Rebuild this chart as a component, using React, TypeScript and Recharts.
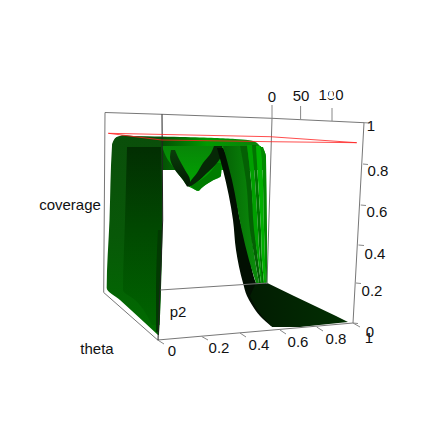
import React from "react";
import { ComposedChart, XAxis, YAxis, Area, Line } from "recharts";

// The plot is an rgl 3D view, so everything is read in projected view units:
// one slice = [view height, left edge, right edge]
type Slice = [number, number, number];

const topSheet: Slice[] = [[136, 122, 125], [137, 118, 180], [139, 115, 235], [141, 114, 253], [146, 112, 260], [157, 112, 266], [170, 112, 266]];
const valleySheet: Slice[] = [[146, 162, 228], [160, 168, 226], [168, 174, 222], [175, 179, 221], [180, 183, 213], [186, 188, 204], [190.7, 197, 199]];
const valleyLobe: Slice[] = [[163, 217, 222], [170, 212, 221], [176, 206, 221], [181, 199, 212], [186, 191, 204], [190.7, 197, 199]];
const ridgeLeft: Slice[] = [[150, 171, 175], [157, 170, 178], [170, 175, 185], [180, 183, 190], [186.5, 187, 190]];
const ridgeRight: Slice[] = [[146, 214, 222], [153, 211, 222], [163, 203, 217], [173, 197, 207], [182, 190, 197], [186, 188, 191]];
const wallBase: Slice[] = [[135.2, 122, 126], [136.5, 118, 140], [139, 114.5, 162], [146, 112, 162], [220, 109.5, 162.5], [288, 106.7, 161], [300, 120, 160.5], [335, 158, 159]];
const wallPanel: Slice[] = [[147, 127, 161], [220, 125, 162], [290, 123, 160.5], [300, 135, 160.5], [325, 152, 159.5]];
const wallRim: Slice[] = [[230, 158, 162], [290, 156, 160.5], [332, 156, 159]];
const stripeBlack: Slice[] = [[148, 217, 223], [170, 223, 232], [220, 233, 240], [250, 236, 248], [283, 243, 256], [296, 247, 262], [305, 252, 268], [316, 260, 274], [326, 271, 280]];
const stripeMid: Slice[] = [[146, 223, 240], [180, 232, 247], [230, 241.7, 251], [260, 249, 255], [283, 256, 259]];
const stripeDark: Slice[] = [[146, 240, 247], [180, 246, 251], [230, 250, 255], [260, 255, 258], [283, 259, 261]];
const stripeBright: Slice[] = [[145, 247, 252], [180, 251, 255], [230, 254, 258], [260, 258, 260], [283, 261, 263]];
const stripeDeep: Slice[] = [[145, 252, 256], [180, 255, 258], [230, 258, 261], [260, 260, 262], [283, 262, 264]];
const stripeLight: Slice[] = [[146, 256, 261], [180, 258, 263], [230, 261, 264], [260, 262, 265], [283, 264, 266]];
const stripeEdge: Slice[] = [[147, 260, 263], [158, 262, 266], [230, 264, 267], [283, 265.5, 267.3]];
const floorSheet: Slice[] = [[283, 256, 267.3], [296, 250, 294], [306, 255, 315], [316, 262, 336], [322, 268, 348], [327, 272, 300]];

const smoothBands = [topSheet, valleySheet, valleyLobe, ridgeLeft, ridgeRight, stripeBlack];
const smoothFills = ["url(#topFill)", "url(#valleyFill)", "#007c00", "url(#ridgeFill)", "#062806", "#020f02"];
const frontBands = [floorSheet, stripeMid, stripeDark, stripeBright, stripeDeep, stripeLight, stripeEdge, wallBase, wallPanel, wallRim];
const frontFills = ["url(#floorFill)", "url(#midFill)", "#046004", "#00a000", "#007400", "#00b000", "#008a00", "url(#wallFill)", "url(#panelFill)", "#023a02"];

const backTop = [[105, 112.5], [162, 114.3], [272, 118.3], [364, 122.7]];
const backLeft = [[105, 112.5], [103.7, 292.5]];
const sideBottom = [[103.7, 292.5], [157.7, 340]];
const frontBottom = [[157.7, 340], [353, 323]];
const frontRight = [[364, 122.7], [353, 323]];
const innerLeft = [[162, 114.3], [162.7, 220], [158, 340]];
const innerRight = [[272, 118.3], [267, 284]];
const innerFloor = [[160, 290], [267, 283]];
const boxEdges = [backTop, backLeft, sideBottom, frontBottom, frontRight, innerRight, innerFloor];

const redPlane = [[108.3, 133.3], [270, 136.7], [356.7, 142.7], [270, 141.7], [161.7, 140], [108.3, 133.3]];

const tickMarks = [
  [[272, 118], [272, 105]], [[300.6, 119], [300.6, 106]], [[332, 121], [332, 108]],
  [[364, 122.7], [370, 123]], [[363, 164], [368, 164.5]], [[360.7, 205], [366, 205.5]], [[358.5, 245], [364, 245.5]], [[356, 283], [361, 283.5]], [[353, 323], [358, 323.5]],
  [[157.7, 340], [164, 344]], [[201.7, 336.5], [208, 340]], [[240, 333], [246, 337]], [[280, 330], [286, 334]], [[316.7, 327], [323, 331]], [[353, 323], [360, 327]],
];

const thetaLabels = ["0", "50", "100"];
const thetaSpots = [[272, 96], [301, 95], [331, 94]];
const coverageLabels = ["1", "0.8", "0.6", "0.4", "0.2", "0"];
const coverageSpots = [[371, 125], [378, 170], [377, 211], [375, 253], [372, 290], [370, 331]];
const p2Labels = ["0", "0.2", "0.4", "0.6", "0.8", "1"];
const p2Spots = [[172, 350], [219, 347], [259, 344], [298, 341], [336, 338], [369, 337]];
const axisTitles = ["coverage", "theta", "p2"];
const titleSpots = [[70, 204], [97, 348], [178, 311]];

const toPoints = (rows: number[][]) => rows.map(([vx, vy]) => ({ vx, vy }));
const toSpan = (rows: Slice[]) => rows.map(([vy, a, b]) => ({ vy, span: [a, b] }));

const allLabels = [
  ...thetaLabels.map((text, i) => ({ text, vx: thetaSpots[i][0], vy: thetaSpots[i][1] })),
  ...coverageLabels.map((text, i) => ({ text, vx: coverageSpots[i][0], vy: coverageSpots[i][1] })),
  ...p2Labels.map((text, i) => ({ text, vx: p2Spots[i][0], vy: p2Spots[i][1] })),
  ...axisTitles.map((text, i) => ({ text, vx: titleSpots[i][0], vy: titleSpots[i][1] })),
];

const LabelDot = (props: any) => (
  <text
    key={props.index}
    x={props.cx}
    y={props.cy}
    textAnchor="middle"
    dominantBaseline="central"
    fontFamily="Liberation Sans"
    fontSize={15}
    fill="#111"
  >
    {props.payload.text}
  </text>
);

export default function App() {
  return (
    <div style={{ position: "absolute", left: 0, top: 0 }}>
      <ComposedChart layout="vertical" width={445} height={427} margin={{ top: 0, right: 0, bottom: 0, left: 0 }}>
        <defs>
          <linearGradient id="topFill" gradientUnits="userSpaceOnUse" x1="162" y1="0" x2="262" y2="0">
            <stop offset="0" stopColor="#045004" />
            <stop offset="0.45" stopColor="#009a00" />
            <stop offset="1" stopColor="#0a800a" />
          </linearGradient>
          <linearGradient id="valleyFill" gradientUnits="userSpaceOnUse" x1="0" y1="145" x2="0" y2="190">
            <stop offset="0" stopColor="#088408" />
            <stop offset="1" stopColor="#00aa00" />
          </linearGradient>
          <linearGradient id="ridgeFill" gradientUnits="userSpaceOnUse" x1="0" y1="150" x2="0" y2="186">
            <stop offset="0" stopColor="#0a3e0a" />
            <stop offset="1" stopColor="#021a02" />
          </linearGradient>
          <linearGradient id="midFill" gradientUnits="userSpaceOnUse" x1="225" y1="0" x2="255" y2="0">
            <stop offset="0" stopColor="#056405" />
            <stop offset="1" stopColor="#0a8a0a" />
          </linearGradient>
          <linearGradient id="floorFill" gradientUnits="userSpaceOnUse" x1="250" y1="0" x2="350" y2="0">
            <stop offset="0" stopColor="#021c02" />
            <stop offset="1" stopColor="#023002" />
          </linearGradient>
          <linearGradient id="wallFill" gradientUnits="userSpaceOnUse" x1="0" y1="136" x2="0" y2="335">
            <stop offset="0" stopColor="#0a4e0a" />
            <stop offset="0.5" stopColor="#085808" />
            <stop offset="1" stopColor="#006c00" />
          </linearGradient>
          <linearGradient id="panelFill" gradientUnits="userSpaceOnUse" x1="0" y1="147" x2="0" y2="325">
            <stop offset="0" stopColor="#022e02" />
            <stop offset="0.45" stopColor="#014801" />
            <stop offset="1" stopColor="#006400" />
          </linearGradient>
        </defs>
        <XAxis type="number" domain={[0, 445]} hide />
        <YAxis type="number" dataKey="vy" domain={[0, 427]} hide />
        {boxEdges.map((edge, i) => (
          <Line key={"box" + i} data={toPoints(edge)} dataKey="vx" stroke="#777" strokeWidth={1} dot={false} isAnimationActive={false} />
        ))}
        {tickMarks.map((mark, i) => (
          <Line key={"tick" + i} data={toPoints(mark)} dataKey="vx" stroke="#888" strokeWidth={1} dot={false} isAnimationActive={false} />
        ))}
        {smoothBands.map((band, i) => (
          <Area key={"smooth" + i} data={toSpan(band)} dataKey="span" type="monotone" fill={smoothFills[i]} fillOpacity={1} stroke="none" dot={false} isAnimationActive={false} />
        ))}
        {frontBands.map((band, i) => (
          <Area key={"front" + i} data={toSpan(band)} dataKey="span" type={i === 0 ? "linear" : "monotone"} fill={frontFills[i]} fillOpacity={1} stroke="none" dot={false} isAnimationActive={false} />
        ))}
        <Line data={toPoints(innerLeft)} dataKey="vx" stroke="#222" strokeWidth={1} dot={false} isAnimationActive={false} />
        <Line data={toPoints(redPlane)} dataKey="vx" stroke="#ff2020" strokeOpacity={0.8} strokeWidth={1} dot={false} isAnimationActive={false} />
        <Line data={allLabels} dataKey="vx" stroke="none" dot={LabelDot} isAnimationActive={false} />
      </ComposedChart>
    </div>
  );
}
